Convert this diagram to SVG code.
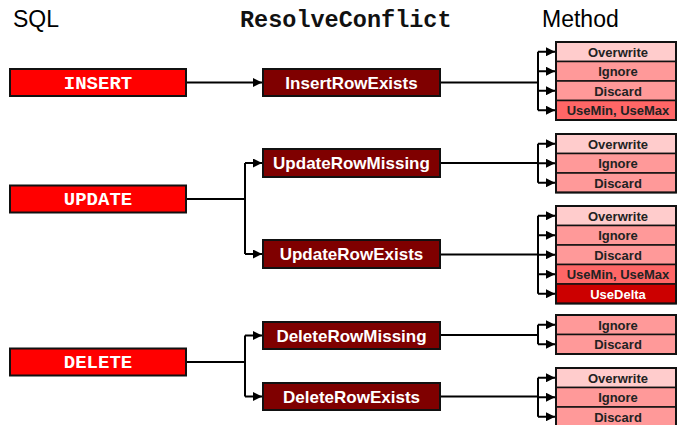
<svg xmlns="http://www.w3.org/2000/svg" width="677" height="425" viewBox="0 0 677 425">
<style>
.hdr{font-family:"Liberation Sans",Arial,sans-serif;font-size:23px;fill:#000}
.hdrm{font-family:"Liberation Mono","Courier New",monospace;font-size:23.5px;font-weight:bold;fill:#111}
.sql rect{fill:#FF0000;stroke:#111;stroke-width:2}
.sql text{font-family:"Liberation Mono","Courier New",monospace;font-size:19px;font-weight:bold;fill:#fff;text-anchor:middle}
.rc rect{fill:#7F0000;stroke:#111;stroke-width:2}
.rc text{font-family:"Liberation Sans",Arial,sans-serif;font-size:17px;font-weight:bold;fill:#fff;text-anchor:middle}
.m rect{stroke:#111;stroke-width:1.5}
.m .frame{fill:none;stroke:#111;stroke-width:2}
.m text{font-family:"Liberation Sans",Arial,sans-serif;font-size:13px;font-weight:bold;fill:#222;text-anchor:middle}
.m text.w{fill:#fff}
.ow{fill:#FFCCCC}.ig{fill:#FF9999}.um{fill:#FF6666}.ud{fill:#CC0000}
.c path{fill:none;stroke:#000;stroke-width:2}
</style>
<defs>
<marker id="ah" viewBox="0 0 10 10" refX="10" refY="5" markerWidth="9" markerHeight="9" markerUnits="userSpaceOnUse" orient="auto">
<path d="M0,0 L10,5 L0,10 z" fill="#000"/>
</marker>
</defs>
<text class="hdr" x="13" y="27">SQL</text>
<text class="hdrm" x="240" y="27">ResolveConflict</text>
<text class="hdr" x="542" y="27">Method</text>

<g class="c" id="connectors">
<path d="M186,82.5 H262" marker-end="url(#ah)"/>
<path d="M186,199 H245"/>
<path d="M245,163 V254"/>
<path d="M245,163 H262" marker-end="url(#ah)"/>
<path d="M245,254 H262" marker-end="url(#ah)"/>
<path d="M186,362 H245"/>
<path d="M245,335.5 V396.5"/>
<path d="M245,335.5 H262" marker-end="url(#ah)"/>
<path d="M245,396.5 H262" marker-end="url(#ah)"/>

<path d="M440,82.5 H538"/>
<path d="M538,51.75 V110.25"/>
<path d="M538,51.75 H555" marker-end="url(#ah)"/>
<path d="M538,71.25 H555" marker-end="url(#ah)"/>
<path d="M538,90.75 H555" marker-end="url(#ah)"/>
<path d="M538,110.25 H555" marker-end="url(#ah)"/>

<path d="M440,163 H538"/>
<path d="M538,143.75 V182.75"/>
<path d="M538,143.75 H555" marker-end="url(#ah)"/>
<path d="M538,163.25 H555" marker-end="url(#ah)"/>
<path d="M538,182.75 H555" marker-end="url(#ah)"/>

<path d="M440,254.5 H538"/>
<path d="M538,215.75 V293.75"/>
<path d="M538,215.75 H555" marker-end="url(#ah)"/>
<path d="M538,235.25 H555" marker-end="url(#ah)"/>
<path d="M538,254.75 H555" marker-end="url(#ah)"/>
<path d="M538,274.25 H555" marker-end="url(#ah)"/>
<path d="M538,293.75 H555" marker-end="url(#ah)"/>

<path d="M440,335 H538"/>
<path d="M538,324.75 V344.25"/>
<path d="M538,324.75 H555" marker-end="url(#ah)"/>
<path d="M538,344.25 H555" marker-end="url(#ah)"/>

<path d="M440,396.5 H538"/>
<path d="M538,377.75 V416.75"/>
<path d="M538,377.75 H555" marker-end="url(#ah)"/>
<path d="M538,397.25 H555" marker-end="url(#ah)"/>
<path d="M538,416.75 H555" marker-end="url(#ah)"/>
</g>

<g class="sql" id="insert"><rect x="10" y="69" width="176" height="27"/><text x="98" y="88.5">INSERT</text></g>
<g class="sql" id="update"><rect x="10" y="185.5" width="176" height="27"/><text x="98" y="205">UPDATE</text></g>
<g class="sql" id="delete"><rect x="10" y="348.5" width="176" height="27"/><text x="98" y="368">DELETE</text></g>

<g class="rc" id="insertRowExists"><rect x="263" y="69" width="177" height="27"/><text x="351.5" y="88.5">InsertRowExists</text></g>
<g class="rc" id="updateRowMissing"><rect x="263" y="149" width="177" height="28"/><text x="351.5" y="169">UpdateRowMissing</text></g>
<g class="rc" id="updateRowExists"><rect x="263" y="240" width="177" height="28"/><text x="351.5" y="260">UpdateRowExists</text></g>
<g class="rc" id="deleteRowMissing"><rect x="263" y="322" width="177" height="27"/><text x="351.5" y="341.5">DeleteRowMissing</text></g>
<g class="rc" id="deleteRowExists"><rect x="263" y="383" width="177" height="27"/><text x="351.5" y="402.5">DeleteRowExists</text></g>

<g class="m" id="methodsInsertRowExists">
<rect class="ow" x="556" y="42" width="120" height="19.5"/><text x="618" y="56.5">Overwrite</text>
<rect class="ig" x="556" y="61.5" width="120" height="19.5"/><text x="618" y="76">Ignore</text>
<rect class="ig" x="556" y="81" width="120" height="19.5"/><text x="618" y="95.5">Discard</text>
<rect class="um" x="556" y="100.5" width="120" height="19.5"/><text x="618" y="115">UseMin, UseMax</text>
<rect class="frame" x="556" y="42" width="120" height="78"/>
</g>
<g class="m" id="methodsUpdateRowMissing">
<rect class="ow" x="556" y="134" width="120" height="19.5"/><text x="618" y="148.5">Overwrite</text>
<rect class="ig" x="556" y="153.5" width="120" height="19.5"/><text x="618" y="168">Ignore</text>
<rect class="ig" x="556" y="173" width="120" height="19.5"/><text x="618" y="187.5">Discard</text>
<rect class="frame" x="556" y="134" width="120" height="58.5"/>
</g>
<g class="m" id="methodsUpdateRowExists">
<rect class="ow" x="556" y="206" width="120" height="19.5"/><text x="618" y="220.5">Overwrite</text>
<rect class="ig" x="556" y="225.5" width="120" height="19.5"/><text x="618" y="240">Ignore</text>
<rect class="ig" x="556" y="245" width="120" height="19.5"/><text x="618" y="259.5">Discard</text>
<rect class="um" x="556" y="264.5" width="120" height="19.5"/><text x="618" y="279">UseMin, UseMax</text>
<rect class="ud" x="556" y="284" width="120" height="19.5"/><text class="w" x="618" y="298.5">UseDelta</text>
<rect class="frame" x="556" y="206" width="120" height="97.5"/>
</g>
<g class="m" id="methodsDeleteRowMissing">
<rect class="ig" x="556" y="315" width="120" height="19.5"/><text x="618" y="329.5">Ignore</text>
<rect class="ig" x="556" y="334.5" width="120" height="19.5"/><text x="618" y="349">Discard</text>
<rect class="frame" x="556" y="315" width="120" height="39"/>
</g>
<g class="m" id="methodsDeleteRowExists">
<rect class="ow" x="556" y="368" width="120" height="19.5"/><text x="618" y="382.5">Overwrite</text>
<rect class="ig" x="556" y="387.5" width="120" height="19.5"/><text x="618" y="402">Ignore</text>
<rect class="ig" x="556" y="407" width="120" height="19.5"/><text x="618" y="421.5">Discard</text>
<rect class="frame" x="556" y="368" width="120" height="58.5"/>
</g>
</svg>
